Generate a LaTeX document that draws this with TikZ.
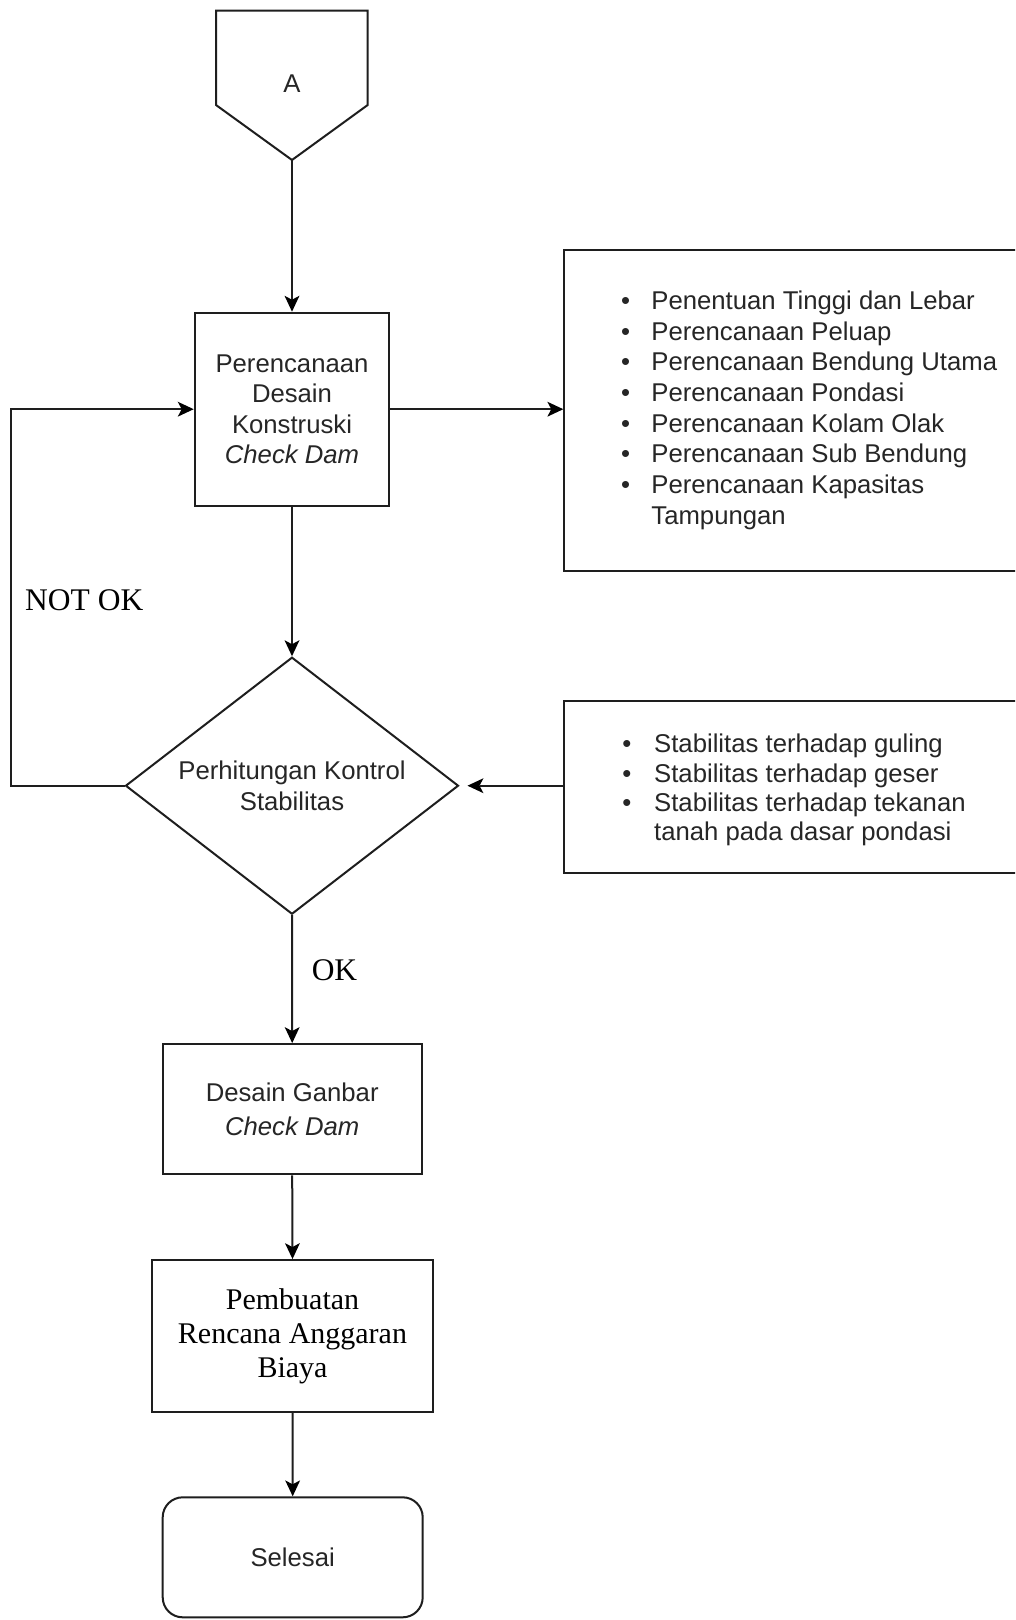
\documentclass[tikz,border=0pt]{standalone}
\usepackage{fontspec}
\setmainfont{Liberation Serif}
\setsansfont{Liberation Sans}
\usetikzlibrary{shapes.geometric,arrows.meta}
\definecolor{ln}{HTML}{1E1E1E}
\definecolor{txt}{HTML}{262626}
\newcommand\bulA{\makebox[30.2pt][l]{•}}
\newcommand\bulB{\makebox[31.8pt][l]{•}}
\begin{document}
\begin{tikzpicture}[x=1pt,y=-1pt,
  sansf/.style={font=\fontsize{25.7}{30.5}\selectfont\sffamily, text=txt},
  serf/.style={font=\fontsize{31.5}{36}\selectfont\rmfamily, text=black},
  box/.style={draw=ln, line width=2pt, inner sep=0pt, align=center, sansf},
  plainbox/.style={draw=ln, line width=2pt, inner sep=0pt, anchor=north west},
  arr/.style={draw=ln, line width=2pt, arrows={-Stealth[length=16pt, width=15pt, inset=4pt, line width=0pt, fill=black]}}]
\useasboundingbox (0,0) rectangle (1015,1620);
\clip (0,0) rectangle (1015,1620);
\fill[white] (0,0) rectangle (1015,1620);

% off-page connector A
\draw[ln, line width=2pt] (216,10.7) -- (367.7,10.7) -- (367.7,105) -- (292,160) -- (216,105) -- cycle;
\node[sansf, inner sep=0pt] (A) at (292,84) {A};
\coordinate (Atip) at (292,160);

% main box
\node[box, minimum width=194.6pt, minimum height=193pt] (b1) at (292,409.2)
  {Perencanaan\\Desain\\Konstruski\\\textit{Check Dam}};

% right list box 1
\node[plainbox, minimum width=480pt, minimum height=320.7pt] (r1) at (563.3,249.3) {};
\node[sansf, font=\fontsize{25.7}{30.7}\selectfont\sffamily, inner sep=0pt, anchor=base west] (l1) at (621,309.3)
  {\begin{tabular}[t]{@{}l@{}l@{}}
   \bulA & Penentuan Tinggi dan Lebar\\
   \bulA & Perencanaan Peluap\\
   \bulA & Perencanaan Bendung Utama\\
   \bulA & Perencanaan Pondasi\\
   \bulA & Perencanaan Kolam Olak\\
   \bulA & Perencanaan Sub Bendung\\
   \bulA & Perencanaan Kapasitas\\
         & Tampungan
   \end{tabular}};

% decision
\node[draw=ln, line width=2pt, diamond, shape aspect=1.3, minimum width=333pt, minimum height=257pt,
      inner sep=0pt, align=center, sansf, font=\fontsize{25.7}{31.7}\selectfont\sffamily] (d) at (292,785.7)
  {Perhitungan Kontrol\\Stabilitas};

% right list box 2
\node[plainbox, minimum width=480pt, minimum height=171.7pt] (r2) at (563.3,700) {};
\node[sansf, font=\fontsize{25.7}{29.2}\selectfont\sffamily, inner sep=0pt, anchor=base west] (l2) at (622.2,752.8)
  {\begin{tabular}[t]{@{}l@{}l@{}}
   \bulB & Stabilitas terhadap guling\\
   \bulB & Stabilitas terhadap geser\\
   \bulB & Stabilitas terhadap tekanan\\
         & tanah pada dasar pondasi
   \end{tabular}};

% lower boxes
\node[box, font=\fontsize{25.7}{33.4}\selectfont\sffamily, minimum width=259pt, minimum height=130.3pt] (b3) at (292.2,1109.2)
  {Desain Ganbar\\\textit{Check Dam}};
\node[box, serf, font=\fontsize{30}{34}\selectfont\rmfamily, minimum width=280.4pt, minimum height=151.7pt] (b4) at (292.5,1335.9)
  {Pembuatan\\Rencana Anggaran\\Biaya};
\node[box, rounded corners=20pt, minimum width=260pt, minimum height=120pt] (s) at (292.7,1557.3)
  {\raisebox{-4pt}{Selesai}};

% labels
\node[serf, inner sep=0pt, anchor=base west] (notok) at (25,610) {NOT OK};
\node[serf, inner sep=0pt, anchor=base] (ok) at (334.5,980) {OK};

% connectors
\draw[arr] (Atip) -- (b1.north);
\draw[arr] (b1.east) -- (b1.east -| r1.west);
\draw[arr] (b1.south) -- (d.north);
\draw[arr, shorten >=8pt] (r2.west |- d.east) -- (d.east);
\draw[arr] (d.west) -- ++(-113.5,0) |- (b1.west);
\draw[arr] (d.south) -- (b3.north);
\draw[arr] (b3.south) -- (b4.north);
\draw[arr] (b4.south) -- (s.north);
\end{tikzpicture}
\end{document}
